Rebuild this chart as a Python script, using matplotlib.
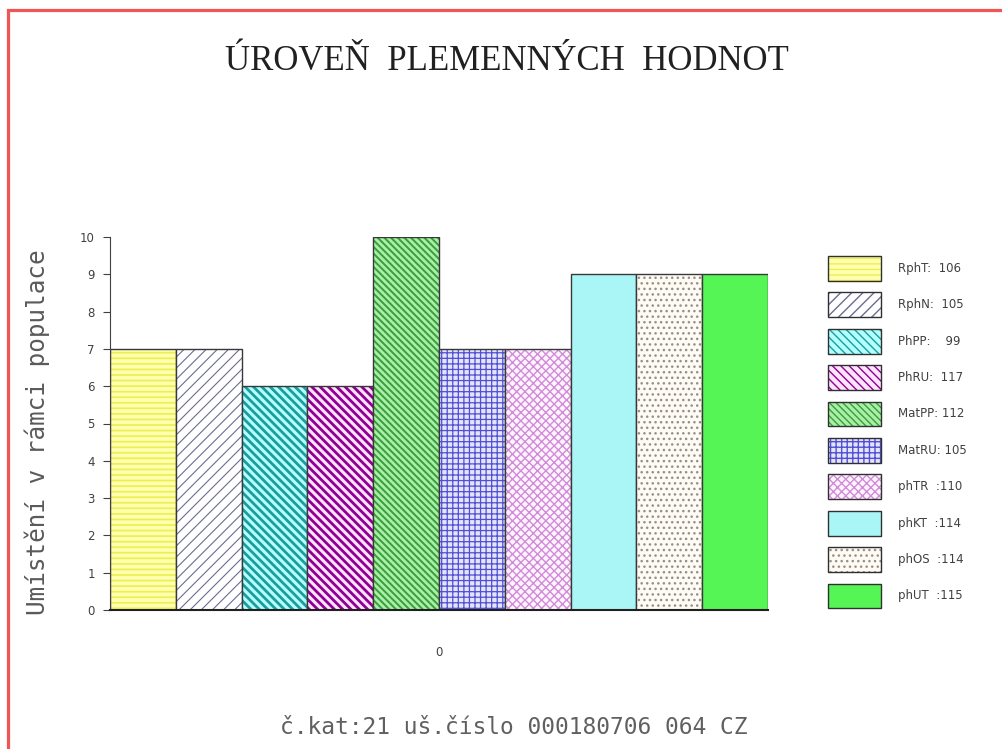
import numpy as np
import matplotlib as mpl
import matplotlib.pyplot as plt
import matplotlib.patches as mpatches

categories = ['RphT', 'RphN', 'PhPP', 'PhRU', 'MatPP', 'MatRU', 'phTR', 'phKT', 'phOS', 'phUT']
rank = [7, 7, 6, 6, 10, 7, 7, 9, 9, 9]
legend_labels = ['RphT:  106', 'RphN:  105', 'PhPP:    99', 'PhRU:  117', 'MatPP: 112',
                 'MatRU: 105', 'phTR  :110', 'phKT  :114', 'phOS  :114', 'phUT  :115']
yticks = [0, 1, 2, 3, 4, 5, 6, 7, 8, 9, 10]

# face colour, hatch colour, hatch, hatch linewidth
styles = [
    ('#ffffb0', '#eeee58', '---', 1.3),
    ('#ffffff', '#6c6c94', '///', 0.8),
    ('#b4ffff', '#1c9c9c', '\\\\\\\\', 2.0),
    ('#ffe4ff', '#900090', '\\\\\\\\', 2.0),
    ('#a8f0a8', '#3c9c3c', '\\\\\\\\\\', 1.4),
    ('#e4e4ff', '#5050d0', '+++', 0.9),
    ('#fff4ff', '#d08cd8', 'xxxx', 1.0),
    ('#aaf6f6', '#aaf6f6', '', 1.0),
    ('#fffaf2', '#909090', '...', 1.0),
    ('#55f555', '#55f555', '', 1.0),
]

fig = plt.figure(figsize=(10.03, 7.49), dpi=100)
ax = fig.add_axes([110/1003, 139/749, 658/1003, 373/749])

x = np.arange(len(categories))
handles = []
for i in range(len(categories)):
    fc, hc, hatch, hlw = styles[i]
    with mpl.rc_context({'hatch.linewidth': hlw}):
        ax.bar(x[i], rank[i], width=1.0, color=fc, edgecolor=hc, hatch=hatch, linewidth=0)
        h1 = mpatches.Patch(facecolor=fc, edgecolor=hc, hatch=hatch, linewidth=0)
    ax.bar(x[i], rank[i], width=1.0, fill=False, edgecolor='#383838', linewidth=1.0)
    h2 = mpatches.Patch(fill=False, edgecolor='#303030', linewidth=1.0)
    handles.append((h1, h2))

ax.set_xlim(-0.5, len(categories) - 0.5)
ax.set_ylim(0, 10)
ax.set_yticks(yticks)
ax.set_xticks([x.mean()])
ax.set_xticklabels(['0'])
for s in ['top', 'right']:
    ax.spines[s].set_visible(False)
ax.spines['left'].set_color('#404040')
ax.spines['bottom'].set_color('#202020')
ax.spines['bottom'].set_linewidth(1.5)
ax.tick_params(axis='y', length=5, color='#404040', labelsize=8.5, labelcolor='#404040', pad=6)
ax.tick_params(axis='x', length=0, labelsize=8.5, labelcolor='#404040', pad=26)

ax.legend(handles, legend_labels, loc='upper left', bbox_to_anchor=(822/1003, 1 - 250/749),
          bbox_transform=fig.transFigure, frameon=False, fontsize=8.5,
          handlelength=4.5, handleheight=2.86, labelspacing=0.98, handletextpad=1.45,
          borderpad=0, labelcolor='#404040')

fig.text(0.505, 1 - 62/749, 'ÚROVEŇ  PLEMENNÝCH  HODNOT', ha='center', va='center',
         family='Liberation Serif', fontsize=25, color='#202020')
fig.text(37/1003, 1 - 432/749, 'Umístění v rámci populace', rotation=90, ha='center', va='center',
         family='DejaVu Sans Mono', fontsize=17.5, color='#5a5a5a')
fig.text(514/1003, 1 - 728/749, 'č.kat:21 uš.číslo 000180706 064 CZ', ha='center', va='center',
         family='DejaVu Sans Mono', fontsize=16.5, color='#606060')

fig.patches.append(mpatches.Rectangle((8/1003, -0.05), 1.2, 1.05 - 9.5/749, transform=fig.transFigure,
                                      fill=False, edgecolor='#f05555', linewidth=2.3))

fig.savefig('out.png', dpi=100)
